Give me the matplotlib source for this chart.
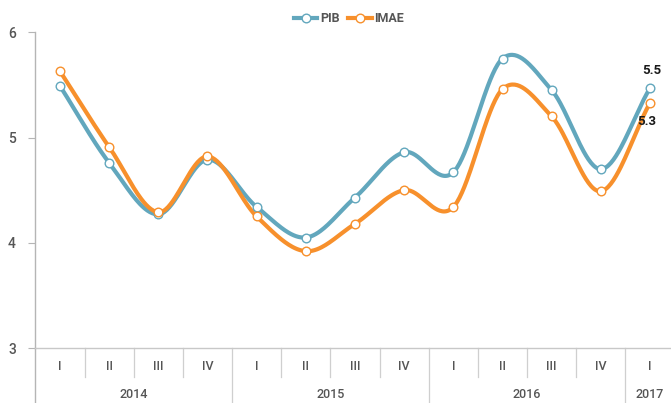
import numpy as np
import matplotlib
matplotlib.use("Agg")
import matplotlib.pyplot as plt
from matplotlib.lines import Line2D

plt.rcParams['font.family'] = ['Roboto', 'DejaVu Sans']

quarters = ["I", "II", "III", "IV", "I", "II", "III", "IV", "I", "II", "III", "IV", "I"]
years = ["2014", "2015", "2016", "2017"]
year_counts = [4, 4, 4, 1]
pib = [5.49, 4.76, 4.27, 4.79, 4.34, 4.05, 4.43, 4.86, 4.67, 5.75, 5.45, 4.70, 5.47]
imae = [5.63, 4.91, 4.29, 4.82, 4.25, 3.92, 4.18, 4.50, 4.34, 5.46, 5.20, 4.49, 5.33]
last_labels = ["5.5", "5.3"]

C_PIB = "#62a7bd"
C_IMAE = "#f7902c"
GRAY_TXT = "#555555"
AX_GRAY = "#b5b5b5"


def catmull_rom(y, n=40):
    y = np.asarray(y, float)
    x = np.arange(len(y), dtype=float)
    m = np.zeros_like(y)
    m[1:-1] = (y[2:] - y[:-2]) / 2.0
    m[0] = y[1] - y[0]
    m[-1] = y[-1] - y[-2]
    xs, ys = [], []
    for i in range(len(y) - 1):
        t = np.linspace(0, 1, n, endpoint=(i == len(y) - 2))
        h00 = 2 * t**3 - 3 * t**2 + 1
        h10 = t**3 - 2 * t**2 + t
        h01 = -2 * t**3 + 3 * t**2
        h11 = t**3 - t**2
        ys.append(h00 * y[i] + h10 * m[i] + h01 * y[i + 1] + h11 * m[i + 1])
        xs.append(x[i] + t)
    return np.concatenate(xs), np.concatenate(ys)


W, H = 671, 403
fig = plt.figure(figsize=(W / 100, H / 100), dpi=100)
ax_left_px, ax_right_px = 35.4, 674.6
ax_top_px, ax_bot_px = 32.3, 348.0
ax = fig.add_axes([ax_left_px / W, 1 - ax_bot_px / H,
                   (ax_right_px - ax_left_px) / W, (ax_bot_px - ax_top_px) / H])
ax_h_px = ax_bot_px - ax_top_px

n = len(quarters)
x = np.arange(n)
for vals, col in [(pib, C_PIB), (imae, C_IMAE)]:
    sx, sy = catmull_rom(vals)
    ax.plot(sx, sy, color=col, lw=3.0, solid_capstyle='round', zorder=3, clip_on=False)
    ax.plot(x, vals, 'o', ms=6.2, mfc='white', mec=col, mew=1.0, zorder=4, clip_on=False)

ax.set_xlim(-0.5, n - 0.5)
ax.set_ylim(3, 6)
ax.set_yticks([3, 4, 5, 6])
ax.set_yticklabels(["3", "4", "5", "6"])
ax.tick_params(axis='y', length=5, width=0.8, color=AX_GRAY, labelcolor=GRAY_TXT,
               labelsize=10, pad=9)
for t in ax.get_yticklabels():
    t.set_fontweight('medium')
ax.set_xticks([])
for s in ['top', 'right']:
    ax.spines[s].set_visible(False)
ax.spines['left'].set_color(AX_GRAY)
ax.spines['left'].set_linewidth(1.0)
ax.spines['bottom'].set_color("#c8c8c8")
ax.spines['bottom'].set_linewidth(1.0)

tr = ax.get_xaxis_transform()
q_depth = -29 / ax_h_px
y_depth = -56 / ax_h_px
year_bounds = np.cumsum(year_counts)[:-1] - 0.5
for k in range(1, n):
    b = k - 0.5
    d = y_depth if b in year_bounds else q_depth
    ax.plot([b, b], [0, d], transform=tr, color="#cfcfcf", lw=0.9, clip_on=False)
ax.plot([-0.5, -0.5], [0, y_depth], transform=tr, color=AX_GRAY, lw=1.0, clip_on=False)

for i, q in enumerate(quarters):
    ax.text(i, -19 / ax_h_px, q, transform=tr, ha='center', va='center',
            fontsize=9, color=GRAY_TXT, fontweight='medium')
start = 0
for yr, c in zip(years, year_counts):
    cx = start + (c - 1) / 2.0
    ax.text(cx, -47 / ax_h_px, yr, transform=tr, ha='center', va='center',
            fontsize=9, color=GRAY_TXT, fontweight='medium')
    start += c

ax.annotate(last_labels[0], (x[-1], pib[-1]), xytext=(1, 8), textcoords='offset points',
            ha='center', va='bottom', fontsize=9.5, color="#1a1a1a", fontweight='bold')
ax.annotate(last_labels[1], (x[-1], imae[-1]), xytext=(-2, -9), textcoords='offset points',
            ha='center', va='top', fontsize=9.5, color="#1a1a1a", fontweight='bold')

handles = [Line2D([], [], color=C_PIB, lw=3, marker='o', ms=6.2, mfc='white', mec=C_PIB),
           Line2D([], [], color=C_IMAE, lw=3, marker='o', ms=6.2, mfc='white', mec=C_IMAE)]
leg = fig.legend(handles, ["PIB", "IMAE"], loc='center', bbox_to_anchor=(349 / W, 1 - 19 / H),
                 ncol=2, frameon=False, handlelength=1.9, handletextpad=0.2,
                 columnspacing=0.7, fontsize=9)
for t in leg.get_texts():
    t.set_color(GRAY_TXT)
    t.set_fontweight('bold')

fig.savefig("out.png", dpi=100)
